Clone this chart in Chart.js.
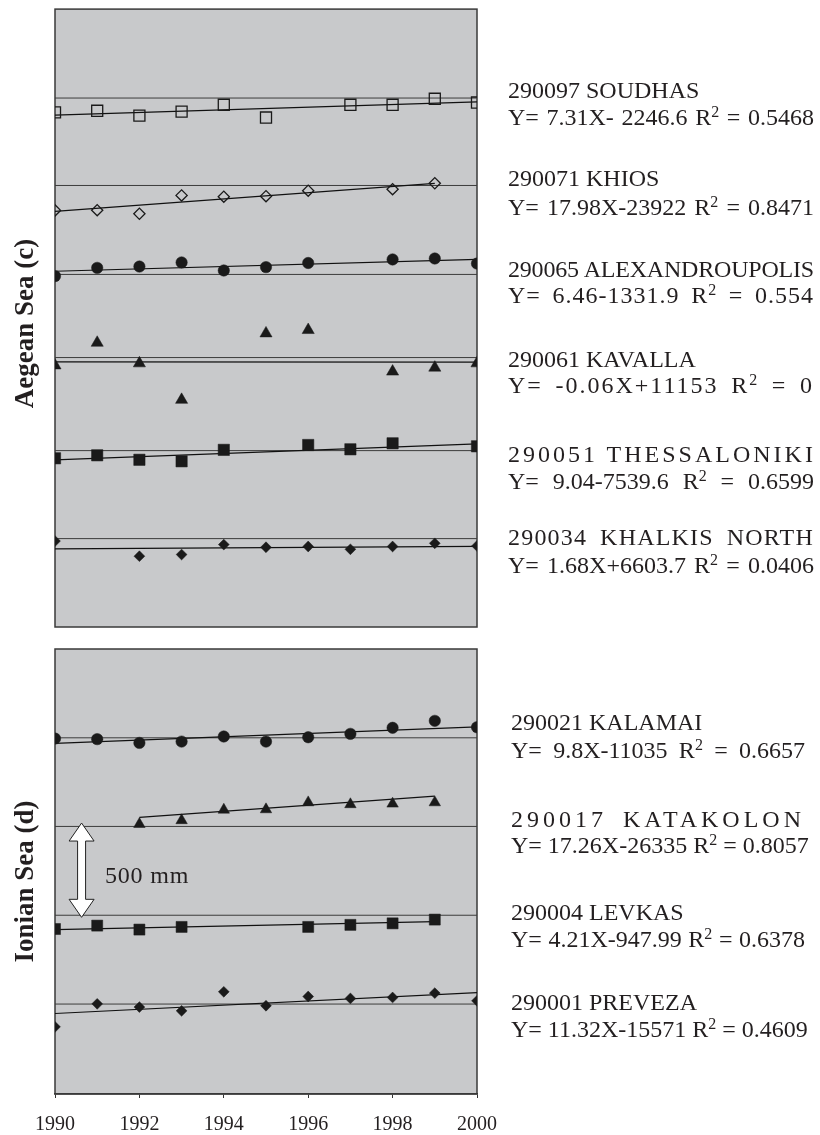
<!DOCTYPE html>
<html>
<head>
<meta charset="utf-8">
<script src="https://cdn.jsdelivr.net/npm/chart.js@4.4.0/dist/chart.umd.min.js"></script>
<style>
  body { margin: 0; background: #fff; width: 820px; height: 1135px; position: relative; overflow: hidden;
         font-family: "Liberation Serif", "Times New Roman", serif; color: #231f20; }
  canvas { position: absolute; left: 0; }
  #aegean { top: 0; }
  #ionian { top: 640px; }
  .lbl { position: absolute; font-size: 24px; line-height: 24px; white-space: nowrap; }
  .lbl.just { text-align: justify; text-align-last: justify; }
  .lbl sup { font-size: 16px; line-height: 0; vertical-align: 0; position: relative; top: -8px; }
  .side { position: absolute; width: 300px; text-align: center; font-weight: bold; font-size: 27px;
          line-height: 27px; transform: rotate(-90deg); white-space: nowrap; }
</style>
</head>
<body>
<canvas id="aegean" width="820" height="640"></canvas>
<canvas id="ionian" width="820" height="513"></canvas>
<div class="side" style="left:-126px; top:310px;">Aegean Sea (c)</div>
<div class="side" style="left:-126px; top:868px;">Ionian Sea (d)</div>
<div class="lbl" style="left:105px; top:863px; letter-spacing:0.8px;">500 mm</div>
<div id="labels"></div>
<script>
// ========================================= data (offset annual rainfall, mm)
const years = [1990, 1991, 1992, 1993, 1994, 1995, 1996, 1997, 1998, 1999, 2000];
const tickYears = [1990, 1992, 1994, 1996, 1998, 2000];

// Aegean Sea (c)
const soudhas = [2748, 2757, 2731, 2752, 2789, 2721, null, 2789, 2789, 2821, 2801];
const khios = [2225, 2226, 2207, 2305, 2298, 2301, 2330, null, 2338, 2370, null];
const alexandroupolis = [1874, 1918, 1925, 1947, 1904, 1922, 1944, null, 1963, 1968, 1941];
const kavalla = [1397, 1518, 1408, 1213, null, 1568, 1586, null, 1364, 1385, 1408];
const thessaloniki = [901, 917, 893, 885, 946, null, 972, 949, 981, null, 965];
const khalkis = [459, null, 378, 387, 440, 426, 430, 415, 430, 447, 433];

const aegeanRef = [2825, 2358, 1883, 1439, 942, 472];
const aegeanTrendYears = [[1990, 2000], [1990, 1999], [1990, 2000], [1990, 2000], [1990, 2000], [1990, 2000]];
const aegeanTrend = [[2734, 2805], [2220, 2369], [1900, 1963], [1416, 1415], [893, 978], [417, 431]];
const aegeanNames = ["290097 SOUDHAS", "290071 KHIOS", "290065 ALEXANDROUPOLIS",
  "290061 KAVALLA", "290051 THESSALONIKI", "290034 KHALKIS NORTH"];
const aegeanEquations = ["Y= 7.31X- 2246.6 R² = 0.5468", "Y= 17.98X-23922 R² = 0.8471",
  "Y= 6.46-1331.9 R² = 0.554", "Y= -0.06X+11153 R² = 0", "Y= 9.04-7539.6 R² = 0.6599",
  "Y= 1.68X+6603.7 R² = 0.0406"];

// Ionian Sea (d)
const kalamai = [1885, 1882, 1862, 1869, 1896, 1869, 1892, 1910, 1942, 1979, 1945];
const katakolon = [null, null, 1431, 1451, 1507, 1509, 1546, 1536, 1539, 1546, null];
const levkas = [875, 893, 872, 886, null, null, 886, 897, 905, 925, null];
const preveza = [356, 478, 461, 441, 542, 468, 517, 507, 512, 535, 494];

const ionianRef = [1889, 1419, 948, 477];
const ionianTrendYears = [[1990, 2000], [1992, 1999], [1990, 1999], [1990, 2000]];
const ionianTrend = [[1859, 1947], [1467, 1580], [872, 914], [427, 538]];
const ionianNames = ["290021 KALAMAI", "290017 KATAKOLON", "290004 LEVKAS", "290001 PREVEZA"];
const ionianEquations = ["Y= 9.8X-11035 R² = 0.6657", "Y= 17.26X-26335 R² = 0.8057",
  "Y= 4.21X-947.99 R² = 0.6378", "Y= 11.32X-15571 R² = 0.4609"];

// scale bar
const arrowYear = 1990.63;
const arrowFrom = 937;
const arrowLength = 500;

// ========================================= marker styles
const INK = "#1a1a1a";
const aegeanMarkers = [
  { style: "rect", r: 7.8, fill: false },
  { style: "rectRot", r: 5.6, fill: false },
  { style: "circle", r: 5.7, fill: true },
  { style: "triangle", r: 7, fill: true },
  { style: "rect", r: 8, fill: true },
  { style: "rectRot", r: 5.4, fill: true },
];
const ionianMarkers = [
  { style: "circle", r: 5.7, fill: true },
  { style: "triangle", r: 6.6, fill: true },
  { style: "rect", r: 7.8, fill: true },
  { style: "rectRot", r: 5.4, fill: true },
];

function toPoints(values) {
  const pts = [];
  for (let i = 0; i < years.length; i++) {
    if (values[i] !== null) pts.push({ x: years[i], y: values[i] });
  }
  return pts;
}

function buildDatasets(series, refs, trendYears, trends, markers) {
  const sets = [];
  for (let i = 0; i < series.length; i++) {
    const m = markers[i];
    sets.push({
      data: toPoints(series[i]),
      pointStyle: m.style,
      pointRadius: m.r,
      pointBackgroundColor: m.fill ? INK : "rgba(0,0,0,0)",
      pointBorderColor: INK,
      pointBorderWidth: m.fill ? 0.5 : 1.3,
      showLine: false,
      order: 0,
    });
    sets.push({
      data: [{ x: years[0], y: refs[i] }, { x: years[years.length - 1], y: refs[i] }],
      showLine: true,
      borderColor: "#3c3c3c",
      borderWidth: 1,
      pointRadius: 0,
      order: 2,
    });
    sets.push({
      data: [{ x: trendYears[i][0], y: trends[i][0] }, { x: trendYears[i][1], y: trends[i][1] }],
      showLine: true,
      borderColor: "#111",
      borderWidth: 1.2,
      pointRadius: 0,
      order: 1,
    });
  }
  return sets;
}

// ========================================= plugins
const panelPlugin = {
  id: "panel",
  beforeDraw(chart) {
    const a = chart.chartArea;
    const ctx = chart.ctx;
    ctx.save();
    ctx.fillStyle = "#c8c9cb";
    ctx.fillRect(a.left, a.top, a.right - a.left, a.bottom - a.top);
    ctx.restore();
  },
  beforeDatasetsDraw(chart) {
    const a = chart.chartArea;
    const ctx = chart.ctx;
    ctx.save();
    ctx.strokeStyle = "#3a3a3a";
    ctx.lineWidth = 1.5;
    ctx.strokeRect(a.left, a.top, a.right - a.left, a.bottom - a.top);
    ctx.restore();
  },
};

const arrowPlugin = {
  id: "scaleArrow",
  afterDatasetsDraw(chart) {
    const ctx = chart.ctx;
    const x = chart.scales.x.getPixelForValue(arrowYear);
    const yTop = chart.scales.y.getPixelForValue(arrowFrom + arrowLength);
    const yBot = chart.scales.y.getPixelForValue(arrowFrom);
    const hw = 12.5, sw = 4, hh = 18;
    ctx.save();
    ctx.beginPath();
    ctx.moveTo(x, yTop);
    ctx.lineTo(x + hw, yTop + hh);
    ctx.lineTo(x + sw, yTop + hh);
    ctx.lineTo(x + sw, yBot - hh);
    ctx.lineTo(x + hw, yBot - hh);
    ctx.lineTo(x, yBot);
    ctx.lineTo(x - hw, yBot - hh);
    ctx.lineTo(x - sw, yBot - hh);
    ctx.lineTo(x - sw, yTop + hh);
    ctx.lineTo(x - hw, yTop + hh);
    ctx.closePath();
    ctx.fillStyle = "#fff";
    ctx.fill();
    ctx.strokeStyle = "#222";
    ctx.lineWidth = 1;
    ctx.stroke();
    ctx.restore();
  },
};

function makeOptions(yMax, showX, padding) {
  return {
    responsive: false,
    animation: false,
    devicePixelRatio: 1,
    events: [],
    layout: { padding: padding },
    plugins: { legend: { display: false }, tooltip: { enabled: false } },
    scales: {
      x: {
        type: "linear",
        min: 1990,
        max: 2000,
        display: showX,
        afterBuildTicks: (axis) => { axis.ticks = tickYears.map((v) => ({ value: v })); },
        ticks: {
          font: { family: "Liberation Serif", size: 20 },
          color: "#231f20",
          padding: 15,
          maxRotation: 0,
          autoSkip: false,
          callback: (v) => String(v),
        },
        grid: { drawOnChartArea: false, drawTicks: true, tickLength: 4, color: "#333", lineWidth: 1 },
        border: { display: true, color: "#3a3a3a", width: 1.5 },
      },
      y: { type: "linear", min: 0, max: yMax, display: false },
    },
  };
}

// ========================================= charts
new Chart(document.getElementById("aegean"), {
  type: "scatter",
  data: {
    datasets: buildDatasets([soudhas, khios, alexandroupolis, kavalla, thessaloniki, khalkis],
      aegeanRef, aegeanTrendYears, aegeanTrend, aegeanMarkers),
  },
  options: makeOptions(3300, false, { left: 55, top: 7, right: 343, bottom: 13 }),
  plugins: [panelPlugin],
});

new Chart(document.getElementById("ionian"), {
  type: "scatter",
  data: {
    datasets: buildDatasets([kalamai, katakolon, levkas, preveza],
      ionianRef, ionianTrendYears, ionianTrend, ionianMarkers),
  },
  options: makeOptions(2360, true, { left: 55, top: 9, right: 343, bottom: 1 }),
  plugins: [panelPlugin, arrowPlugin],
});

// ========================================= station labels
// [baseline, justify, letter-spacing]
const aegeanNameLayout = [[97.7, false, 0], [186, false, 0], [277, true, -0.2], [367, false, 0], [461.7, true, 3], [545, true, 1.2]];
const aegeanEqLayout = [[125, true, 0], [215, true, 0], [303, true, 1], [393, true, 2], [489.3, true, 0], [572.7, true, 0]];
const ionianNameLayout = [[730, false, 0], [826.7, true, 4], [920, false, 0], [1010, false, 0]];
const ionianEqLayout = [[758.3, true, 0], [853.3, true, 0], [946.7, true, 0], [1036.7, true, 0]];

function addLabel(text, layout, left, width) {
  const div = document.createElement("div");
  div.className = "lbl" + (layout[1] ? " just" : "");
  div.style.left = left + "px";
  div.style.top = (layout[0] - 20) + "px";
  if (layout[1]) div.style.width = width + "px";
  div.style.letterSpacing = layout[2] + "px";
  div.innerHTML = text.replace("²", "<sup>2</sup>");
  document.getElementById("labels").appendChild(div);
}

for (let i = 0; i < aegeanNames.length; i++) {
  addLabel(aegeanNames[i], aegeanNameLayout[i], 508, 306);
  addLabel(aegeanEquations[i], aegeanEqLayout[i], 508, 306);
}
for (let i = 0; i < ionianNames.length; i++) {
  addLabel(ionianNames[i], ionianNameLayout[i], 511, 294);
  addLabel(ionianEquations[i], ionianEqLayout[i], 511, 294);
}
</script>
</body>
</html>
